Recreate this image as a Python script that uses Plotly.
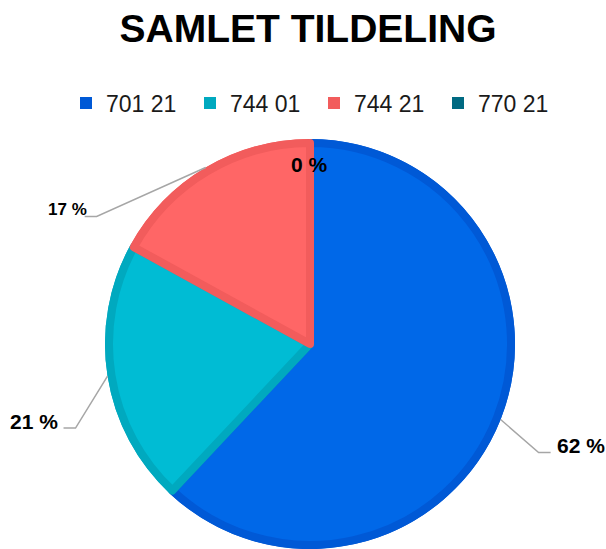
import math
import plotly.graph_objects as go

# ---------------- data ----------------
TITLE = "SAMLET TILDELING"
categories = ["701 21", "744 01", "744 21", "770 21"]
values = [62, 21, 17, 0]

# ---------------- styles ----------------
fill_colors = ["#0068E8", "#00BCD4", "#FF6666", "#007089"]
band_colors = ["#0059D6", "#00A9BF", "#F25C5C", "#006A82"]

W, H = 606, 549
CX, CY, R = 310, 344, 205       # pie centre / outer radius in pixels
BAND = 8                         # darker rim band width
HSEG = 12                        # horizontal part of leader line
LEADER_COLOR = "#A6A6A6"
FONT = "Liberation Sans"

label_style = {
    "701 21": dict(mode="outside", elbow=(38, 33), gap=4, size=21),
    "744 01": dict(mode="outside", elbow=(-32, 52), gap=4, size=21),
    "744 21": dict(mode="outside", elbow=(-109, 49), gap=-4, size=17),
    "770 21": dict(mode="inside", size=21),
}


def px(x):
    return x / W


def py(y):
    return 1 - y / H


fig = go.Figure()

# dark base pie (also provides legend squares)
fig.add_trace(go.Pie(
    labels=categories, values=values, sort=False, direction="clockwise",
    rotation=0, textinfo="none", hoverinfo="label+percent",
    marker=dict(colors=band_colors, line=dict(width=0)),
    domain=dict(x=[px(CX - R), px(CX + R)], y=[py(CY + R), py(CY - R)]),
    showlegend=True,
))

# lighter inner pie with darker edges (no edge on empty slices)
r2 = R - BAND / 2
edge_widths = [BAND if v > 0 else 0 for v in values]
fig.add_trace(go.Pie(
    labels=categories, values=values, sort=False, direction="clockwise",
    rotation=0, textinfo="none", hoverinfo="label+percent",
    marker=dict(colors=fill_colors, line=dict(width=edge_widths, color=band_colors)),
    domain=dict(x=[px(CX - r2), px(CX + r2)], y=[py(CY + r2), py(CY - r2)]),
    showlegend=False,
))

# ---------------- data labels with leader lines ----------------
total = sum(values)
annotations = []
shapes = []
cum = 0.0
for cat, v in zip(categories, values):
    frac = v / total
    mid = (cum + frac / 2) * 360.0
    cum += frac
    s, c = math.sin(math.radians(mid)), math.cos(math.radians(mid))
    txt = f"{round(frac * 100)} %"
    st = label_style[cat]
    if st["mode"] == "inside":
        rr = 0.875 * R
        annotations.append(dict(
            x=px(CX + rr * s), y=py(CY - rr * c), xref="paper", yref="paper",
            text=txt, showarrow=False, xanchor="center", yanchor="middle",
            font=dict(family=FONT, size=st["size"], color="#000000", weight="bold"),
        ))
        continue
    x0, y0 = CX + R * s, CY - R * c
    ex, ey = x0 + st["elbow"][0], y0 + st["elbow"][1]
    side = 1 if s >= 0 else -1
    hx = ex + side * HSEG
    shapes.append(dict(
        type="path", xref="paper", yref="paper",
        path=f"M{px(x0)},{py(y0)} L{px(ex)},{py(ey)} L{px(hx)},{py(ey)}",
        line=dict(color=LEADER_COLOR, width=1.5),
    ))
    annotations.append(dict(
        x=px(hx + side * st["gap"]), y=py(ey - 7), xref="paper", yref="paper",
        text=txt, showarrow=False,
        xanchor="left" if side > 0 else "right", yanchor="middle",
        font=dict(family=FONT, size=st["size"], color="#000000", weight="bold"),
    ))

fig.update_layout(
    width=W, height=H,
    margin=dict(l=0, r=0, t=0, b=0),
    paper_bgcolor="white", plot_bgcolor="white",
    title=dict(
        text=TITLE, x=px(308), y=py(28), xanchor="center", yanchor="middle",
        xref="paper", yref="paper",
        font=dict(family=FONT, size=39, color="#000000", weight="bold"),
    ),
    legend=dict(
        orientation="h", x=px(66), y=py(103), xanchor="left", yanchor="middle",
        font=dict(family=FONT, size=23, color="#1A1A1A"),
        entrywidth=79, entrywidthmode="pixels", traceorder="normal",
        bgcolor="rgba(0,0,0,0)",
    ),
    annotations=annotations,
    shapes=shapes,
)

fig.write_html(
    "out.html",
    config={"displayModeBar": False},
    post_script="document.body.style.margin='0';document.body.style.overflow='hidden';",
)
